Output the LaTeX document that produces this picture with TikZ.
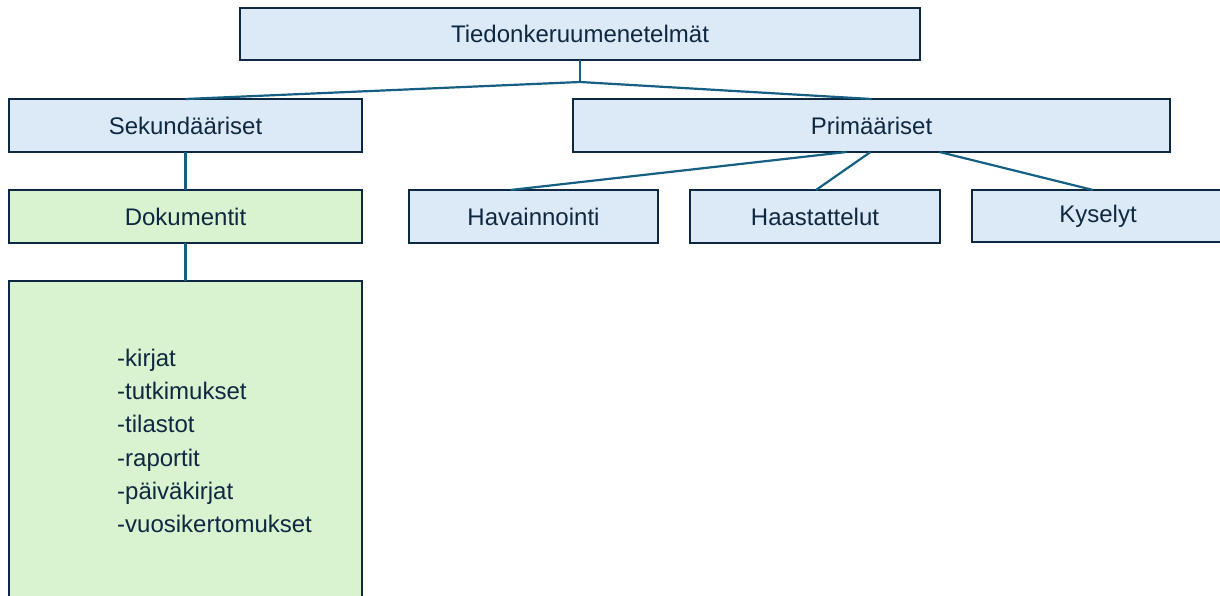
\documentclass[tikz,border=0pt]{standalone}
\usepackage{fontspec}
\setmainfont{Liberation Sans}
\usetikzlibrary{calc}
\definecolor{boxblue}{HTML}{DCE9F6}
\definecolor{boxgreen}{HTML}{D9F2D0}
\definecolor{edge}{HTML}{0E2841}
\definecolor{link}{HTML}{156082}
\begin{document}
\begin{tikzpicture}[x=1pt,y=-1pt,
  box/.style={draw=edge, line width=2.2pt, fill=boxblue, text=edge,
    font=\fontsize{24}{28}\selectfont, inner sep=0pt, outer sep=0pt,
    minimum width=#1, minimum height=53pt},
  greenbox/.style={box=#1, fill=boxgreen},
  connector/.style={draw=link, line width=2.2pt}]
\clip (0,0) rectangle (1220,596);
\useasboundingbox (0,0) rectangle (1220,596);
% hierarchy boxes
\node[box=680pt, minimum height=52pt] (top) at (580,34) {Tiedonkeruumenetelmät};
\node[box=353pt] (sek) at (185.5,125.5) {Sekundääriset};
\node[box=597pt] (prim) at (871.5,125.5) {Primääriset};
\node[greenbox=353pt] (dok) at (185.5,216.5) {Dokumentit};
\node[box=249pt] (hav) at (533.5,216.5) {Havainnointi};
\node[box=250pt] (haa) at (815,216.5) {Haastattelut};
\node[box=252pt, minimum height=52pt] (kys) at (1098,216) {Kyselyt};
% document list box
\node[greenbox=353pt, minimum height=322pt] (lista) at (185.5,442) {};
\node[anchor=west, align=left, text=edge, inner sep=0pt,
  font=\fontsize{24}{33.3}\selectfont] (items) at (117,441)
  {-kirjat\\-tutkimukset\\-tilastot\\-raportit\\-päiväkirjat\\-vuosikertomukset};
% connectors
\coordinate (split) at ($(top.south)+(0,22)$);
\draw[connector] (top.south) -- (split);
\draw[connector] (split) -- (sek.north);
\draw[connector] (split) -- (prim.north);
\draw[connector] (sek.south) -- (dok.north);
\draw[connector] (dok.south) -- (lista.north);
\draw[connector] ($(prim.south)+(-25,0)$) -- ($(hav.north)+(-23,0)$);
\draw[connector] ($(prim.south)+(-1,0)$) -- ($(haa.north)+(1,0)$);
\draw[connector] ($(prim.south)+(68,0)$) -- ($(kys.north)+(-5,0)$);
\end{tikzpicture}
\end{document}
